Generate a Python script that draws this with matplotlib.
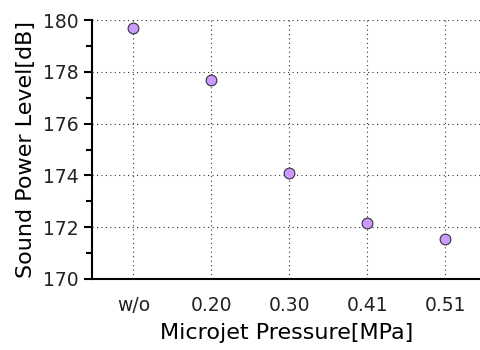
import matplotlib
matplotlib.use("Agg")
import matplotlib.pyplot as plt
from matplotlib.ticker import MultipleLocator

categories = ["w/o", "0.20", "0.30", "0.41", "0.51"]
spl = [179.7, 177.7, 174.1, 172.15, 171.55]

plt.rcParams['font.family'] = ['DejaVu Sans']
fig = plt.figure(figsize=(4.81, 3.5), dpi=100)
ax = fig.add_axes([92/481, 1-279/350, 1-92/481, (279-20)/350])
x = list(range(len(categories)))
ax.scatter(x, spl, s=60, facecolor='#cc99ff', edgecolor='#333333', linewidth=0.8, zorder=3)
ax.set_xlim(-0.53, 4.46)
ax.set_ylim(170, 180)
ax.set_xticks(x)
ax.set_xticklabels(categories)
ax.yaxis.set_major_locator(MultipleLocator(2))
ax.yaxis.set_minor_locator(MultipleLocator(1))
ax.grid(True, which='major', linestyle=(0, (1, 3)), color='#333333', linewidth=0.8)
for s in ['top', 'right']:
    ax.spines[s].set_visible(False)
ax.spines['left'].set_linewidth(1.5)
ax.spines['bottom'].set_linewidth(1.5)
ax.tick_params(axis='x', length=0, labelsize=13.5, pad=12, colors='#222222')
ax.tick_params(axis='y', which='major', length=6, width=1.5, labelsize=13.5, direction='out', labelcolor='#222222')
ax.tick_params(axis='y', which='minor', length=4, width=1.5, direction='out')
ax.set_xlabel("Microjet Pressure[MPa]", fontsize=16, labelpad=6)
ax.set_ylabel("Sound Power Level[dB]", fontsize=16, labelpad=5)
fig.savefig("out.png", dpi=100)
